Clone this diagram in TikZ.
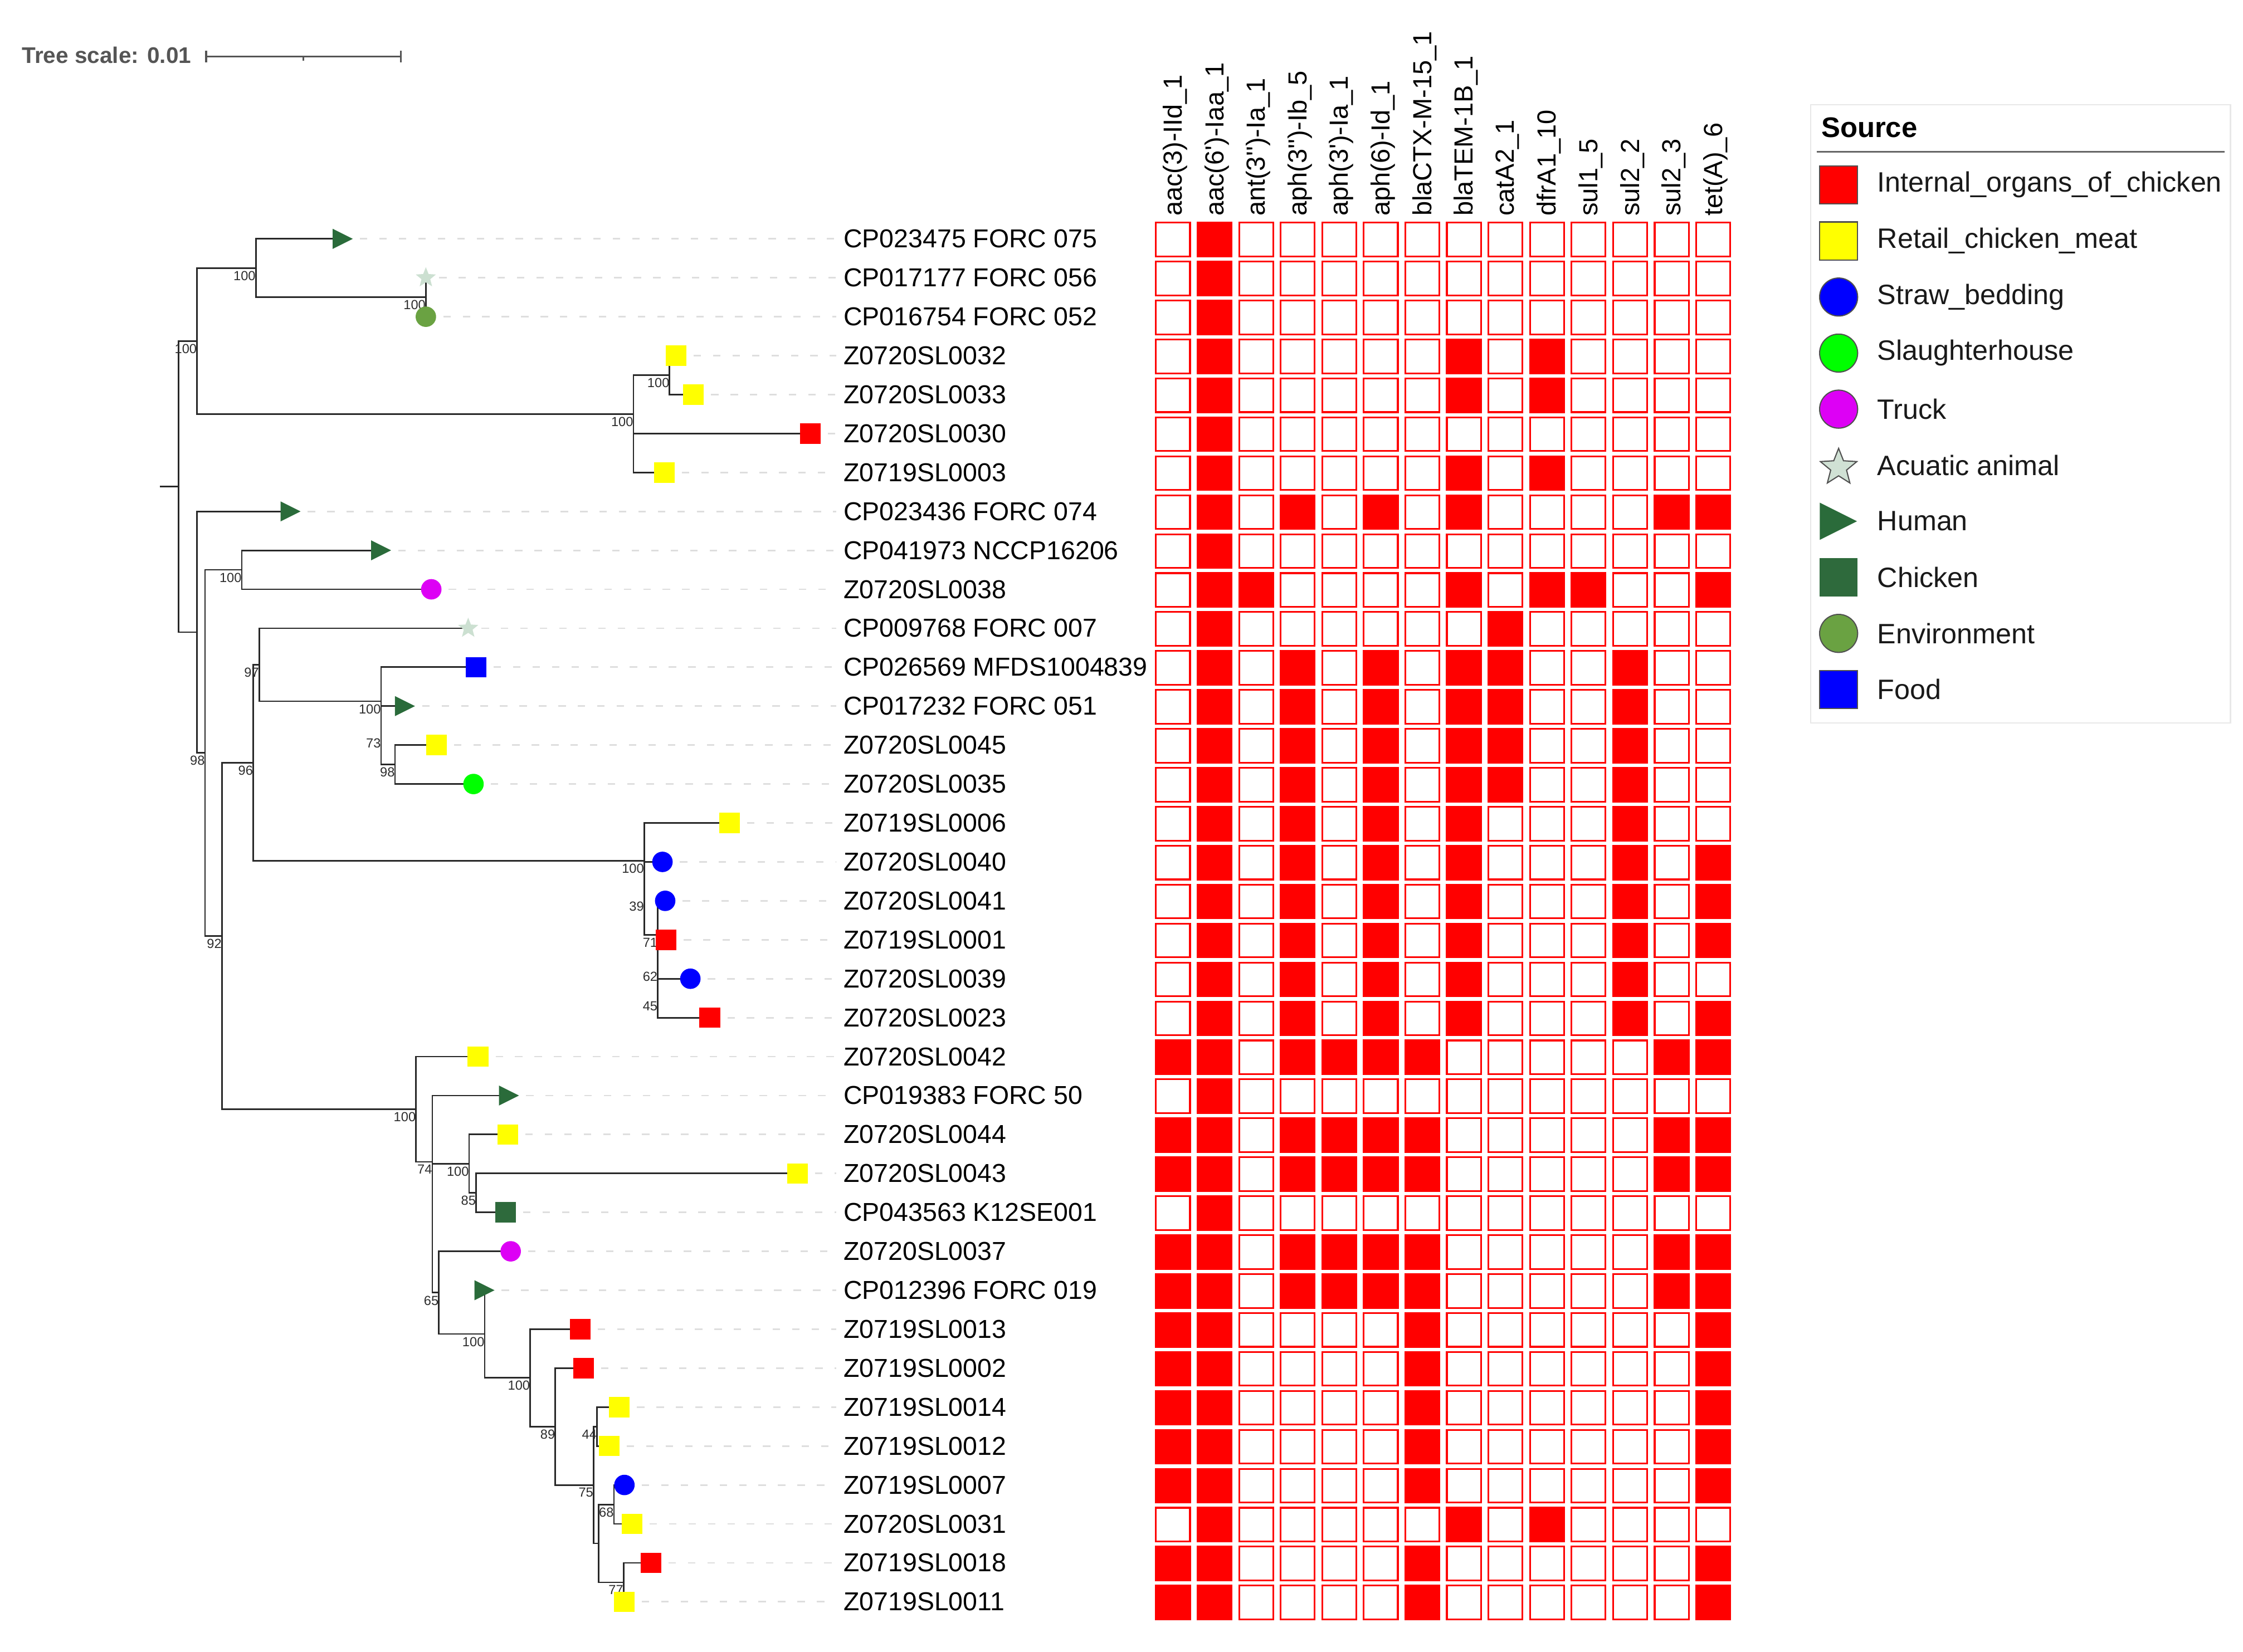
\documentclass[tikz,border=0pt]{standalone}
\usepackage{fontspec}
\newfontfamily\ls{Liberation Sans}
\usetikzlibrary{shapes.geometric,calc}
\definecolor{intR}{RGB}{255,0,0}
\definecolor{retY}{RGB}{255,255,0}
\definecolor{strawB}{RGB}{0,0,255}
\definecolor{slG}{RGB}{0,255,0}
\definecolor{truckM}{RGB}{221,0,245}
\definecolor{aqG}{RGB}{204,224,209}
\definecolor{humG}{RGB}{42,107,58}
\definecolor{chkG}{RGB}{46,106,60}
\definecolor{envG}{RGB}{106,162,66}
\definecolor{foodB}{RGB}{0,0,255}
\definecolor{brC}{RGB}{40,40,40}
\definecolor{scC}{RGB}{85,85,85}
\definecolor{ldC}{RGB}{222,222,222}
\definecolor{bsC}{RGB}{45,45,45}
\definecolor{lgbd}{RGB}{80,80,80}
\definecolor{lgbox}{RGB}{232,232,232}
\tikzset{
  br/.style={draw=brC, line width=0.55pt},
  sym/.style={inner sep=0pt, outer sep=0pt},
  sq/.style={sym, rectangle, minimum width=7.25pt, minimum height=7.1pt},
  ci/.style={sym, circle, minimum size=7.15pt},
  ret/.style={sq, fill=retY},
  int/.style={sq, fill=intR},
  food/.style={sq, fill=foodB},
  chk/.style={sq, fill=chkG},
  straw/.style={ci, fill=strawB},
  sl/.style={ci, fill=slG},
  truck/.style={ci, fill=truckM},
  env/.style={ci, fill=envG},
  aq/.style={sym, star, star points=5, star point ratio=2.3, minimum size=7.4pt, fill=aqG},
  hum/.style={sym, isosceles triangle, isosceles triangle stretches, minimum width=7pt, minimum height=7pt, fill=humG, anchor=lower side, xshift=-3.5pt},
  lg/.style={minimum size=13.3pt, draw=lgbd, line width=0.4pt},
  humL/.style={sym, isosceles triangle, isosceles triangle stretches, minimum width=13pt, minimum height=13pt, fill=humG, anchor=lower side, xshift=-6.6pt},
  leader/.style={draw=ldC, line width=0.55pt, dash pattern=on 2.6pt off 4.2pt},
  leaf/.style={font={\ls\fontsize{9.05}{10}\selectfont}, anchor=west, inner sep=0pt, text=black},
  boot/.style={font={\ls\fontsize{4.6}{5}\selectfont}, anchor=north east, inner sep=0pt, text=bsC},
  hdr/.style={font={\ls\fontsize{9.15}{10}\selectfont}, anchor=west, rotate=90, inner sep=0pt, text=black},
  cell/.style={draw=intR, line width=0.6pt, fill=white, minimum width=11.9pt, minimum height=11.8pt, inner sep=0pt},
  lgtxt/.style={font={\ls\fontsize{9.8}{11}\selectfont}, anchor=west, inner sep=0pt, text=black!90},
  scbar/.style={draw=scC, line width=0.65pt}
}
\begin{document}
\begin{tikzpicture}[x=0.5pt,y=-0.5pt]
\fill[white] (0,0) rectangle (1568,1155);
\path[use as bounding box] (0,0) rectangle (1568,1155);

% tree scale
\node[font={\ls\bfseries\fontsize{7.9}{9}\selectfont}, text=scC, anchor=west, inner sep=0pt] (ts) at (15,38.7) {Tree scale: 0.01};
\coordinate (sb1) at (144.1,39.6);
\coordinate (sb2) at (280.2,39.6);
\coordinate (sbm) at (212.15,39.6);
\draw[scbar] (sb1) -- (sb2);
\draw[scbar] ($(sb1)+(0,-4)$) -- ($(sb1)+(0,4)$);
\draw[scbar] ($(sb2)+(0,-4)$) -- ($(sb2)+(0,4)$);
\draw[scbar] (sbm) -- ++(0,3);

% leaf coordinates
\foreach \r/\tx in {1/239.6,2/297.7,3/297.7,4/472.6,5/484.8,6/566.5,7/464.3,8/203.1,9/266.4,10/301.5,11/327.3,12/332.8,13/283.1,14/305.0,15/331.0,16/510.0,17/463.1,18/465.0,19/465.7,20/482.6,21/496.2,22/334.2,23/355.8,24/355.0,25/557.5,26/353.5,27/357.0,28/338.7,29/405.5,30/408.0,31/433.0,32/425.8,33/436.5,34/441.8,35/455.1,36/436.4}{
  \pgfmathsetmacro{\yy}{167+(\r-1)*27.23}
  \coordinate (l\r) at (\tx,\yy);
}

% internal nodes
\coordinate (rs) at (111.6,340.26);
\coordinate (nR) at (124.9,340.26);
\coordinate (nC) at (137.7,238.49);
\coordinate (nA) at (178.8,187.43);
\coordinate (nB) at (297.7,207.85);
\coordinate (nD) at (442.8,289.55);
\coordinate (nE) at (468.1,262.3);
\coordinate (nF) at (442.8,316.8);
\coordinate (nG) at (137.7,442.03);
\coordinate (nH) at (143.3,526.46);
\coordinate (nI) at (169.0,398.45);
\coordinate (nJ) at (155.1,654.47);
\coordinate (nK) at (177.0,533.34);
\coordinate (nL) at (181.2,464.83);
\coordinate (nP) at (266.4,490.35);
\coordinate (nPb) at (266.4,514.2);
\coordinate (nQ) at (276.1,534.6);
\coordinate (nN) at (450.3,601.85);
\coordinate (n39) at (450.3,628.2);
\coordinate (n71) at (459.8,653.73);
\coordinate (n62) at (459.8,677.55);
\coordinate (n45) at (459.8,698.0);
\coordinate (nS) at (290.8,775.6);
\coordinate (nT) at (302.2,812.45);
\coordinate (nTb) at (302.2,858.8);
\coordinate (nU) at (327.9,813.7);
\coordinate (nV) at (332.8,834.15);
\coordinate (nW) at (306.8,903.9);
\coordinate (nX) at (338.8,932.8);
\coordinate (nY) at (370.6,963.45);
\coordinate (nZ) at (388.2,997.5);
\coordinate (nAA) at (414.9,1038.35);
\coordinate (nAB) at (417.3,997.5);
\coordinate (nAC) at (418.6,1079.2);
\coordinate (nAD) at (429.2,1052.0);
\coordinate (nAE) at (435.9,1106.45);

% branches
\draw[br] (rs) -- (nR);
\foreach \p/\c in {nR/nC,nR/nG,nC/nA,nC/nD,nA/l1,nA/nB,nB/l2,nB/l3,nD/nE,nD/nF,nE/l4,nE/l5,nF/l6,nF/l7,
  nG/l8,nG/nH,nH/nI,nH/nJ,nI/l9,nI/l10,nJ/nK,nJ/nS,nK/nL,nK/nN,nL/l11,nL/nP,nP/l12,nP/nPb,nPb/l13,nPb/nQ,nQ/l14,nQ/l15,
  nN/l16,nN/n39,n39/l17,n39/n71,n71/l18,n71/n62,n62/l19,n62/n45,n45/l20,n45/l21,
  nS/l22,nS/nT,nT/l23,nT/nTb,nTb/nU,nTb/nW,nU/l24,nU/nV,nV/l25,nV/l26,nW/l27,nW/nX,nX/l28,nX/nY,
  nY/l29,nY/nZ,nZ/l30,nZ/nAA,nAA/nAB,nAA/nAC,nAB/l31,nAB/l32,nAC/nAD,nAC/nAE,nAD/l33,nAD/l34,nAE/l35,nAE/l36}{
  \draw[br] (\p) |- (\c);
}

% bootstrap values
\foreach \n/\v in {nC/100,nA/100,nB/100,nE/100,nD/100,nI/100,nL/97,nP/100,nPb/73,nQ/98,nK/96,nH/98,nN/100,n39/39,n71/71,n62/62,n45/45,nJ/92,nS/100,nT/74,nU/100,nV/85,nW/65,nX/100,nY/100,nZ/89,nAA/75,nAB/44,nAD/68,nAE/77}{
  \node[boot] (b-\n) at ($(\n)+(0.2,1.8)$) {\v};
}

% leaves: symbols, leaders, labels
\foreach \r/\sym/\lab in {1/hum/CP023475 FORC 075,2/aq/CP017177 FORC 056,3/env/CP016754 FORC 052,4/ret/Z0720SL0032,5/ret/Z0720SL0033,6/int/Z0720SL0030,7/ret/Z0719SL0003,8/hum/CP023436 FORC 074,9/hum/CP041973 NCCP16206,10/truck/Z0720SL0038,11/aq/CP009768 FORC 007,12/food/CP026569 MFDS1004839,13/hum/CP017232 FORC 051,14/ret/Z0720SL0045,15/sl/Z0720SL0035,16/ret/Z0719SL0006,17/straw/Z0720SL0040,18/straw/Z0720SL0041,19/int/Z0719SL0001,20/straw/Z0720SL0039,21/int/Z0720SL0023,22/ret/Z0720SL0042,23/hum/CP019383 FORC 50,24/ret/Z0720SL0044,25/ret/Z0720SL0043,26/chk/CP043563 K12SE001,27/truck/Z0720SL0037,28/hum/CP012396 FORC 019,29/int/Z0719SL0013,30/int/Z0719SL0002,31/ret/Z0719SL0014,32/ret/Z0719SL0012,33/straw/Z0719SL0007,34/ret/Z0720SL0031,35/int/Z0719SL0018,36/ret/Z0719SL0011}{
  \pgfmathsetmacro{\yy}{167+(\r-1)*27.23}
  \node[leaf] (t\r) at (589.4,\yy) {\lab};
  \node[\sym] (s\r) at (l\r) {};
  \draw[leader] ($(s\r.east)+(5,0)$) -- ($(t\r.west)+(-5,0)$);
}

% heatmap headers
\foreach \c/\g in {1/aac(3)-IId\_1,2/aac(6')-Iaa\_1,3/ant(3'')-Ia\_1,4/aph(3'')-Ib\_5,5/aph(3')-Ia\_1,6/aph(6)-Id\_1,7/blaCTX-M-15\_1,8/blaTEM-1B\_1,9/catA2\_1,10/dfrA1\_10,11/sul1\_5,12/sul2\_2,13/sul2\_3,14/tet(A)\_6}{
  \pgfmathsetmacro{\xx}{820+(\c-1)*29.05+1.5}
  \node[hdr] (g\c) at (\xx,151.5) {\g};
}

% heatmap cells
\foreach \r/\cols in {1/{2},2/{2},3/{2},4/{2,8,10},5/{2,8,10},6/{2},7/{2,8,10},8/{2,4,6,8,13,14},9/{2},10/{2,3,8,10,11,14},11/{2,9},12/{2,4,6,8,9,12},13/{2,4,6,8,9,12},14/{2,4,6,8,9,12},15/{2,4,6,8,9,12},16/{2,4,6,8,12},17/{2,4,6,8,12,14},18/{2,4,6,8,12,14},19/{2,4,6,8,12,14},20/{2,4,6,8,12},21/{2,4,6,8,12,14},22/{1,2,4,5,6,7,13,14},23/{2},24/{1,2,4,5,6,7,13,14},25/{1,2,4,5,6,7,13,14},26/{2},27/{1,2,4,5,6,7,13,14},28/{1,2,4,5,6,7,13,14},29/{1,2,7,14},30/{1,2,7,14},31/{1,2,7,14},32/{1,2,7,14},33/{1,2,7,14},34/{2,8,10},35/{1,2,7,14},36/{1,2,7,14}}{
  \pgfmathsetmacro{\yy}{167.5+(\r-1)*27.23}
  \foreach \c in {1,...,14}{
    \pgfmathsetmacro{\xx}{820+(\c-1)*29.05}
    \node[cell] (h\r-\c) at (\xx,\yy) {};
  }
  \foreach \c in \cols {
    \fill[intR] (h\r-\c.south west) rectangle (h\r-\c.north east);
  }
}

% legend
\draw[lgbox, line width=0.5pt] (1265.8,73.3) rectangle (1559.2,505.6);
\node[font={\ls\bfseries\fontsize{9.9}{11}\selectfont}, anchor=west, inner sep=0pt] (lgT) at (1272.8,89) {Source};
\coordinate (lgl1) at (1269.9,106.2);
\coordinate (lgl2) at (1555.1,106.2);
\draw[draw=black!60, line width=0.5pt] (lgl1) -- (lgl2);
\node[int, lg] (k1) at (1285.3,129.3) {};
\node[ret, lg] (k2) at (1285.3,168.5) {};
\node[straw, lg] (k3) at (1285.3,207.7) {};
\node[sl, lg] (k4) at (1285.3,246.9) {};
\node[truck, lg] (k5) at (1285.3,286.1) {};
\node[aq, lg, minimum size=13.4pt, fill={rgb,255:red,208;green,225;blue,212}] (k6) at (1285.3,326.9) {};
\node[humL] (k7) at (1285.3,364.5) {};
\node[chk, lg, draw=none] (k8) at (1285.3,403.7) {};
\node[env, lg] (k9) at (1285.3,442.9) {};
\node[food, lg] (k10) at (1285.3,482.1) {};
\node[lgtxt] (q1) at (1312,129.3) {Internal\_organs\_of\_chicken};
\node[lgtxt] (q2) at (1312,168.5) {Retail\_chicken\_meat};
\node[lgtxt] (q3) at (1312,207.7) {Straw\_bedding};
\node[lgtxt] (q4) at (1312,246.9) {Slaughterhouse};
\node[lgtxt] (q5) at (1312,286.1) {Truck};
\node[lgtxt] (q6) at (1312,325.3) {Acuatic animal};
\node[lgtxt] (q7) at (1312,364.5) {Human};
\node[lgtxt] (q8) at (1312,403.7) {Chicken};
\node[lgtxt] (q9) at (1312,442.9) {Environment};
\node[lgtxt] (q10) at (1312,482.1) {Food};
\end{tikzpicture}
\end{document}
